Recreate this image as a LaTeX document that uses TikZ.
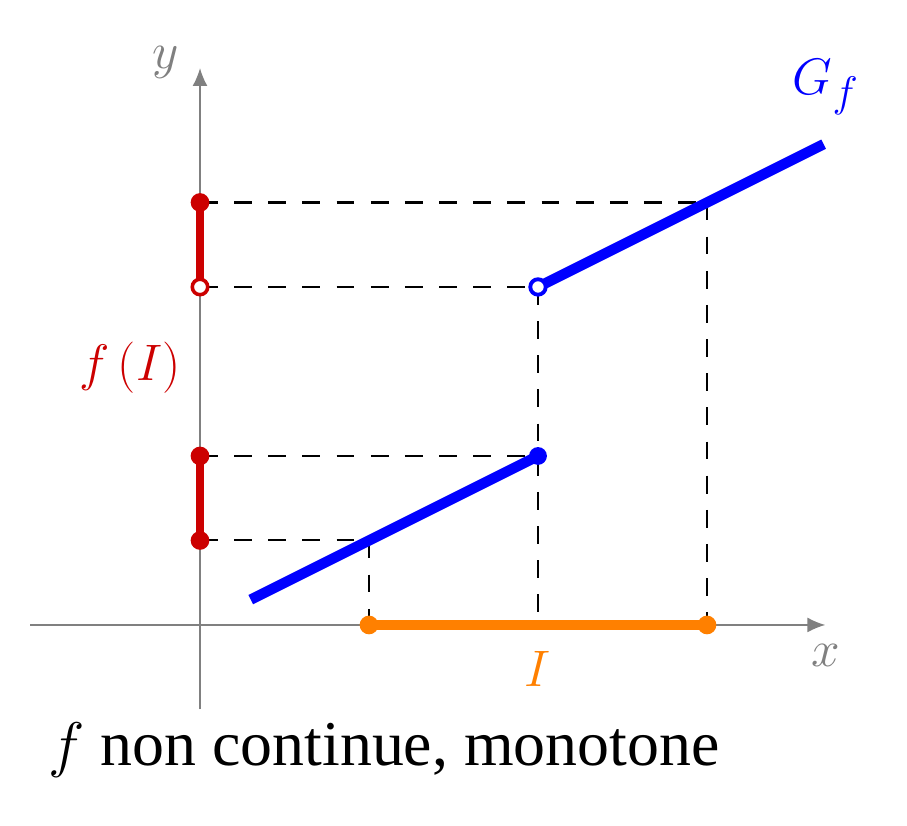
\documentclass[tikz,border=0pt]{standalone}
\usepackage{fontspec}
\setmainfont{Liberation Serif}
\usetikzlibrary{arrows.meta}
\definecolor{fred}{RGB}{204,0,0}
\definecolor{forange}{RGB}{255,128,0}
\definecolor{fgray}{RGB}{128,128,128}
\tikzset{
  axis/.style={draw=fgray, line width=0.5pt, -{Latex[length=6pt,width=5pt]}},
  guide/.style={draw=black, line width=0.7pt, dash pattern=on 6pt off 5.5pt},
  graph/.style={draw=blue, line width=3.5pt},
  image/.style={draw=fred, line width=2.8pt},
  interval/.style={draw=forange, line width=3.2pt},
  lbl/.style={font=\fontsize{19}{22}\selectfont},
  dotpt/.style={circle, inner sep=0pt, minimum size=6.3pt},
}
\begin{document}
\begin{tikzpicture}
\useasboundingbox (-2.367,-2.379) rectangle (8.367,7.396);
% axes
\coordinate (xs) at (-2.01,0);
\coordinate (xe) at (7.40,0);
\coordinate (ys) at (0,-1.0);
\coordinate (ye) at (0,6.59);
\draw[axis] (xs) -- (xe);
\draw[axis] (ys) -- (ye);
\node[lbl, text=fgray] (xl) at (7.40,-0.36) {$x$};
\node[lbl, text=fgray] (yl) at (-0.41,6.66) {$y$};
% key points
\coordinate (a0) at (0.6,0.3);
\coordinate (a1) at (4,2);
\coordinate (b0) at (4,4);
\coordinate (b1) at (7.38,5.69);
\coordinate (p2) at (2,1);
\coordinate (p6) at (6,5);
\coordinate (x2) at (2,0);
\coordinate (x4) at (4,0);
\coordinate (x6) at (6,0);
\coordinate (y1) at (0,1);
\coordinate (y2) at (0,2);
\coordinate (y4) at (0,4);
\coordinate (y5) at (0,5);
% guides
\draw[guide] (y5) -- (p6);
\draw[guide] (y4) -- (b0);
\draw[guide] (y2) -- (a1);
\draw[guide] (y1) -- (p2);
\draw[guide] (p2) -- (x2);
\draw[guide] (b0) -- (x4);
\draw[guide] (p6) -- (x6);
% graph
\draw[graph] (a0) -- (a1);
\draw[graph] (b0) -- (b1);
\node[dotpt, fill=blue, minimum size=6pt] (d1) at (a1) {};
\node[dotpt, fill=white, draw=blue, line width=1.3pt, minimum size=5.2pt] (d2) at (b0) {};
% interval I
\draw[interval] (x2) -- (x6);
\node[dotpt, fill=forange] (i1) at (x2) {};
\node[dotpt, fill=forange] (i2) at (x6) {};
\node[lbl, text=forange] (Il) at (4,-0.52) {$I$};
% image f(I)
\draw[image] (y1) -- (y2);
\draw[image] (y4) -- (y5);
\node[dotpt, fill=fred] (r1) at (y1) {};
\node[dotpt, fill=fred] (r2) at (y2) {};
\node[dotpt, fill=fred] (r3) at (y5) {};
\node[dotpt, fill=white, draw=fred, line width=1.2pt, minimum size=5.2pt] (r4) at (y4) {};
\node[lbl, text=fred] (fl) at (-0.83,3.04) {$f\,(I)$};
\node[lbl, text=blue] (gl) at (7.41,6.36) {$G_f$};
% caption
\node[font=\fontsize{21.5}{25}\selectfont, anchor=west, inner sep=0pt] (cap) at (-1.80,-1.48) {$f$ non continue, monotone};
\end{tikzpicture}
\end{document}
